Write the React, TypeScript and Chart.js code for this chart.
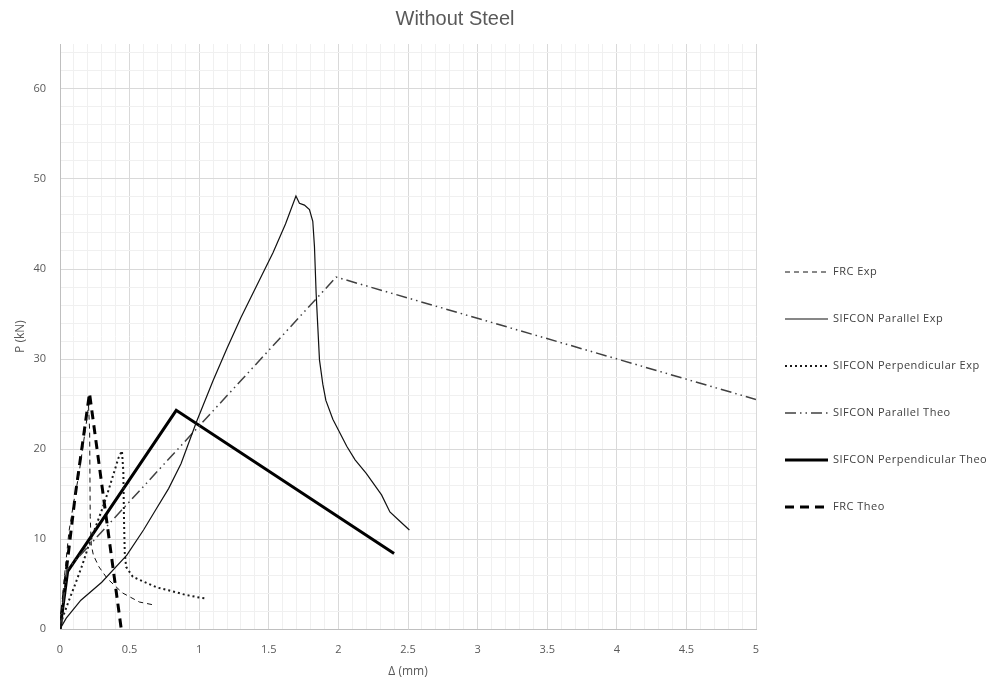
import React, { useEffect, useRef } from 'react';
import { Chart, registerables } from 'chart.js';

Chart.register(...registerables);

// Load–displacement curves, Δ in mm, P in kN
const frcExpX = [0, 0.03, 0.064, 0.1, 0.135, 0.165, 0.19, 0.205, 0.213, 0.217, 0.225, 0.24, 0.28, 0.34, 0.45, 0.57, 0.665];
const frcExpY = [0, 5.5, 10.8, 14.2, 17.1, 20.3, 23.0, 24.8, 22.0, 12.5, 9.3, 8.2, 6.9, 5.6, 4.0, 3.0, 2.7];

const parExpX = [0, 0.045, 0.15, 0.3, 0.48, 0.6, 0.69, 0.78, 0.87, 0.98, 1.1, 1.2, 1.3, 1.37, 1.45, 1.53, 1.62, 1.695, 1.72, 1.756, 1.792, 1.816, 1.828, 1.84, 1.852, 1.864, 1.888, 1.91, 1.96, 2.01, 2.06, 2.12, 2.2, 2.31, 2.37, 2.44, 2.51];
const parExpY = [0, 1.2, 3.2, 5.2, 8.2, 11.0, 13.3, 15.6, 18.4, 23.0, 27.6, 31.2, 34.6, 36.8, 39.3, 41.8, 45.0, 48.1, 47.3, 47.1, 46.6, 45.3, 42.5, 37.3, 33.6, 29.9, 27.2, 25.4, 23.3, 21.8, 20.3, 18.8, 17.3, 14.9, 13.0, 12.0, 11.0];

const perpExpX = [0, 0.02, 0.06, 0.11, 0.16, 0.2, 0.25, 0.3, 0.34, 0.38, 0.42, 0.445, 0.455, 0.46, 0.465, 0.475, 0.523, 0.595, 0.7, 0.78, 0.9, 1.0, 1.05];
const perpExpY = [0, 1.3, 3.0, 5.0, 7.1, 9.0, 11.1, 13.2, 15.0, 17.0, 19.0, 19.8, 17.5, 12.0, 8.5, 6.9, 5.8, 5.3, 4.6, 4.3, 3.8, 3.5, 3.4];

const parTheoX = [0, 0.05, 1.984, 5];
const parTheoY = [0, 6.6, 39.1, 25.5];

const perpTheoX = [0, 0.055, 0.835, 2.4];
const perpTheoY = [0, 6.4, 24.3, 8.4];

const frcTheoX = [0, 0.05, 0.11, 0.16, 0.212, 0.44];
const frcTheoY = [0, 7.1, 14.9, 20.4, 26.2, 0];

const seriesNames = [
  'FRC Exp',
  'SIFCON Parallel Exp',
  'SIFCON Perpendicular Exp',
  'SIFCON Parallel Theo',
  'SIFCON Perpendicular Theo',
  'FRC Theo',
];

const xTickLabels = ['0', '0.5', '1', '1.5', '2', '2.5', '3', '3.5', '4', '4.5', '5'];
const yTickLabels = ['0', '10', '20', '30', '40', '50', '60'];
const xMinorStep = 0.1;
const yMinorStep = 2;
const xMax = 5;
const yMax = 65;

const chartTitle = 'Without Steel';
const xAxisTitle = 'Δ (mm)';
const yAxisTitle = 'P (kN)';

const GREY_TEXT = '#595959';
const MAJOR_GRID = '#d9d9d9';
const MINOR_GRID = '#f0f0f0';

const toPoints = (xs: number[], ys: number[]) => xs.map((x, i) => ({ x, y: ys[i] }));

const isMajor = (v: number, labels: string[]) =>
  labels.some((l) => Math.abs(parseFloat(l) - v) < 1e-6);

const minorTicks = (max: number, step: number) => {
  const out: { value: number }[] = [];
  const n = Math.floor(max / step + 1e-9);
  for (let i = 0; i <= n; i++) out.push({ value: Math.round(i * step * 1000) / 1000 });
  return out;
};

// Draws the title above the plot
const titlePlugin = {
  id: 'plotTitle',
  afterDraw(chart: any) {
    const { ctx } = chart;
    ctx.save();
    ctx.font = '20px "Liberation Sans", Arial, sans-serif';
    ctx.fillStyle = GREY_TEXT;
    ctx.textAlign = 'center';
    ctx.textBaseline = 'middle';
    ctx.fillText(chartTitle, 447, 11);
    ctx.restore();
  },
};

// Legend column to the right of the plot, one row per dataset
const sideLegendPlugin = {
  id: 'sideLegend',
  afterDraw(chart: any) {
    const { ctx } = chart;
    const x0 = 777;
    const x1 = 820;
    const top = 264;
    const rowGap = 47;
    ctx.save();
    chart.data.datasets.forEach((ds: any, i: number) => {
      const y = top + i * rowGap;
      ctx.beginPath();
      ctx.setLineDash(ds.borderDash || []);
      ctx.lineWidth = ds.borderWidth;
      ctx.strokeStyle = ds.borderColor;
      ctx.lineCap = 'butt';
      ctx.moveTo(x0, y);
      ctx.lineTo(x1, y);
      ctx.stroke();
      ctx.setLineDash([]);
      ctx.font = '11px "Open Sans", sans-serif';
      (ctx as any).letterSpacing = '0.5px';
      ctx.fillStyle = '#404040';
      ctx.textAlign = 'left';
      ctx.textBaseline = 'middle';
      ctx.fillText(ds.label, x1 + 5, y);
      (ctx as any).letterSpacing = '0px';
    });
    ctx.restore();
  },
};

export default function App() {
  const canvasRef = useRef<HTMLCanvasElement | null>(null);

  useEffect(() => {
    if (!canvasRef.current) return;
    const common = { pointRadius: 0, pointHoverRadius: 0, tension: 0, fill: false, showLine: true };
    const chart = new Chart(canvasRef.current, {
      type: 'scatter',
      data: {
        datasets: [
          { ...common, label: seriesNames[0], data: toPoints(frcExpX, frcExpY), borderColor: '#111111', borderWidth: 1, borderDash: [5, 4] },
          { ...common, label: seriesNames[1], data: toPoints(parExpX, parExpY), borderColor: '#111111', borderWidth: 1.2 },
          { ...common, label: seriesNames[2], data: toPoints(perpExpX, perpExpY), borderColor: '#1a1a1a', borderWidth: 2, borderDash: [2, 3] },
          { ...common, label: seriesNames[3], data: toPoints(parTheoX, parTheoY), borderColor: '#404040', borderWidth: 1.5, borderDash: [11, 4, 1.5, 4, 1.5, 4] },
          { ...common, label: seriesNames[4], data: toPoints(perpTheoX, perpTheoY), borderColor: '#000000', borderWidth: 3 },
          { ...common, label: seriesNames[5], data: toPoints(frcTheoX, frcTheoY), borderColor: '#000000', borderWidth: 3, borderDash: [9, 6] },
        ],
      },
      options: {
        animation: false,
        responsive: true,
        maintainAspectRatio: false,
        layout: { padding: { left: 0, right: 239, top: 36, bottom: 0 } },
        plugins: {
          legend: { display: false },
          title: { display: false },
          tooltip: { enabled: false },
        },
        scales: {
          x: {
            type: 'linear',
            min: 0,
            max: xMax,
            afterBuildTicks: (scale: any) => {
              scale.ticks = minorTicks(xMax, xMinorStep);
            },
            afterFit: (scale: any) => {
              scale.height = 49;
            },
            ticks: {
              autoSkip: false,
              maxRotation: 0,
              padding: 14,
              color: GREY_TEXT,
              font: { family: '"Open Sans", sans-serif', size: 11 },
              callback: (v: any) => {
                const idx = xTickLabels.findIndex((l) => Math.abs(parseFloat(l) - Number(v)) < 1e-6);
                return idx >= 0 ? xTickLabels[idx] : '';
              },
            },
            grid: {
              drawTicks: false,
              color: (c: any) => (c.tick && isMajor(c.tick.value, xTickLabels) ? MAJOR_GRID : MINOR_GRID),
              lineWidth: 1,
            },
            border: { color: '#bfbfbf' },
            title: {
              display: true,
              text: xAxisTitle,
              color: GREY_TEXT,
              font: { family: '"Open Sans", sans-serif', size: 12, lineHeight: 1 },
              padding: { top: 0, bottom: 0 },
            },
          },
          y: {
            type: 'linear',
            min: 0,
            max: yMax,
            afterBuildTicks: (scale: any) => {
              scale.ticks = minorTicks(yMax, yMinorStep);
            },
            afterFit: (scale: any) => {
              scale.width = 52;
            },
            ticks: {
              autoSkip: false,
              padding: 14,
              color: GREY_TEXT,
              font: { family: '"Open Sans", sans-serif', size: 11 },
              callback: (v: any) => {
                const idx = yTickLabels.findIndex((l) => Math.abs(parseFloat(l) - Number(v)) < 1e-6);
                return idx >= 0 ? yTickLabels[idx] : '';
              },
            },
            grid: {
              drawTicks: false,
              color: (c: any) => (c.tick && isMajor(c.tick.value, yTickLabels) ? MAJOR_GRID : MINOR_GRID),
              lineWidth: 1,
            },
            border: { color: '#bfbfbf' },
            title: {
              display: true,
              text: yAxisTitle,
              color: GREY_TEXT,
              font: { family: '"Open Sans", sans-serif', size: 12, lineHeight: 1 },
              padding: { top: 7, bottom: 0 },
            },
          },
        },
      },
      plugins: [titlePlugin, sideLegendPlugin],
    } as any);
    return () => chart.destroy();
  }, []);

  return (
    <div style={{ position: 'relative', width: '100%', height: '670px' }}>
      <canvas ref={canvasRef} />
    </div>
  );
}
